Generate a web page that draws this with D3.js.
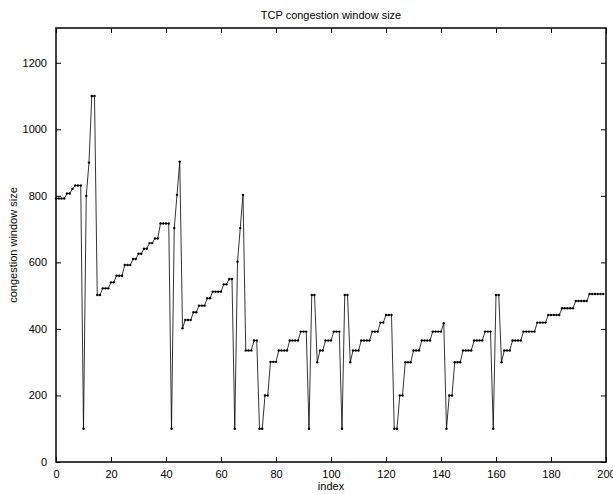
<!DOCTYPE html>
<html>
<head>
<meta charset="utf-8">
<script src="https://cdn.jsdelivr.net/npm/d3@7"></script>
<style>
  html, body { margin: 0; padding: 0; background: #fff; }
  svg { display: block; }
  text { font-family: "Liberation Sans", Arial, Helvetica, sans-serif; fill: #000; }
</style>
</head>
<body>
<svg id="chart" width="613" height="494"></svg>
<script>
// Congestion window size per sample index (0..199)
const cwnd = [
  792, 792, 792, 792, 807, 807, 821, 831, 831, 831,
  100, 800, 900, 1100, 1100, 502, 502, 522, 522, 522,
  540, 540, 560, 560, 560, 592, 592, 592, 610, 610,
  626, 626, 641, 641, 658, 658, 672, 672, 717, 717,
  717, 717, 100, 703, 803, 903, 402, 427, 427, 427,
  450, 450, 470, 470, 470, 492, 492, 512, 512, 512,
  512, 534, 534, 550, 550, 100, 602, 703, 803, 335,
  335, 335, 365, 365, 100, 100, 200, 200, 301, 301,
  301, 335, 335, 335, 335, 365, 365, 365, 365, 392,
  392, 392, 100, 502, 502, 300, 335, 335, 365, 365,
  365, 392, 392, 392, 100, 502, 502, 300, 335, 335,
  335, 365, 365, 365, 365, 392, 392, 392, 419, 419,
  442, 442, 442, 100, 100, 200, 200, 300, 300, 300,
  335, 335, 335, 365, 365, 365, 365, 392, 392, 392,
  392, 417, 100, 200, 200, 300, 300, 300, 335, 335,
  335, 335, 365, 365, 365, 365, 392, 392, 392, 100,
  502, 502, 300, 335, 335, 335, 365, 365, 365, 365,
  392, 392, 392, 392, 392, 419, 419, 419, 419, 442,
  442, 442, 442, 442, 462, 462, 462, 462, 462, 484,
  484, 484, 484, 484, 505, 505, 505, 505, 505, 505
];
const xTicks = [0, 20, 40, 60, 80, 100, 120, 140, 160, 180, 200];
const yTicks = [0, 200, 400, 600, 800, 1000, 1200];
const titleText = "TCP congestion window size";
const xLabelText = "index";
const yLabelText = "congestion window size";

const box = { left: 56, right: 606, top: 28, bottom: 462 };
const svg = d3.select("#chart");

const x = d3.scaleLinear().domain([0, 200]).range([box.left, box.right]);
const y = d3.scaleLinear().domain([0, 1300]).range([box.bottom, box.top + 1.5]);

const points = cwnd.map((v, i) => ({ i, v }));

// data line with point markers
const line = d3.line().x(d => x(d.i)).y(d => y(d.v));
svg.append("path")
  .datum(points)
  .attr("d", line)
  .attr("fill", "none")
  .attr("stroke", "#000")
  .attr("stroke-width", 0.8)
  .attr("stroke-linejoin", "miter");

svg.append("g").selectAll("circle")
  .data(points)
  .join("circle")
  .attr("cx", d => x(d.i))
  .attr("cy", d => y(d.v))
  .attr("r", 1.2)
  .attr("fill", "#000");

// axes: ticks point inward on all four sides
const tickLen = 5;
const fontSize = 11;

const bottomAxis = d3.axisBottom(x).tickValues(xTicks).tickSize(-tickLen).tickPadding(tickLen + 3).tickFormat(d3.format("d"));
const topAxis = d3.axisTop(x).tickValues(xTicks).tickSize(-tickLen).tickFormat("");
const leftAxis = d3.axisLeft(y).tickValues(yTicks).tickSize(-tickLen).tickPadding(tickLen + 4).tickFormat(d3.format("d"));
const rightAxis = d3.axisRight(y).tickValues(yTicks).tickSize(-tickLen).tickFormat("");

function styleAxis(g) {
  g.select(".domain").remove();
  g.selectAll(".tick line").attr("stroke", "#000").attr("stroke-width", 1);
  g.selectAll(".tick text").attr("font-size", fontSize).attr("font-family", "Liberation Sans, Arial, sans-serif").attr("fill", "#000");
}

svg.append("g").attr("transform", `translate(0,${box.bottom})`).call(bottomAxis).call(styleAxis);
svg.append("g").attr("transform", `translate(0,${box.top})`).call(topAxis).call(styleAxis);
svg.append("g").attr("transform", `translate(${box.left},0)`).call(leftAxis).call(styleAxis);
svg.append("g").attr("transform", `translate(${box.right},0)`).call(rightAxis).call(styleAxis);

// axes frame
svg.append("rect")
  .attr("x", box.left)
  .attr("y", box.top)
  .attr("width", box.right - box.left)
  .attr("height", box.bottom - box.top)
  .attr("fill", "none")
  .attr("stroke", "#000")
  .attr("stroke-width", 1.5);

// title and axis labels
const cx = (box.left + box.right) / 2;
svg.append("text")
  .attr("x", cx).attr("y", 19)
  .attr("text-anchor", "middle")
  .attr("font-size", fontSize)
  .text(titleText);

svg.append("text")
  .attr("x", cx).attr("y", 490)
  .attr("text-anchor", "middle")
  .attr("font-size", fontSize)
  .text(xLabelText);

svg.append("text")
  .attr("transform", `translate(17,${(box.top + box.bottom) / 2}) rotate(-90)`)
  .attr("text-anchor", "middle")
  .attr("font-size", fontSize)
  .text(yLabelText);
</script>
</body>
</html>
